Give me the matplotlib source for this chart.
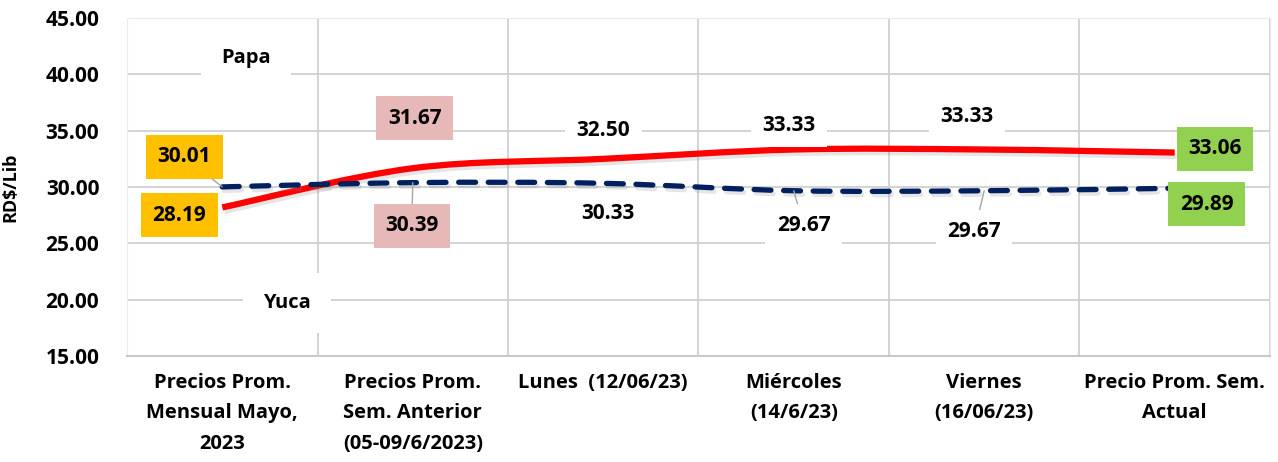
import numpy as np
import matplotlib
matplotlib.use("Agg")
import matplotlib.pyplot as plt
import matplotlib.patheffects as pe
from matplotlib.path import Path
from matplotlib.patches import PathPatch

plt.rcParams['font.family'] = ['Open Sans', 'DejaVu Sans']
plt.rcParams['font.weight'] = 'bold'

categories = ["Precios Prom.\nMensual Mayo,\n2023",
              "Precios Prom.\nSem. Anterior\n(05-09/6/2023)",
              "Lunes  (12/06/23)",
              "Miércoles\n(14/6/23)",
              "Viernes\n(16/06/23)",
              "Precio Prom. Sem.\nActual"]
papa = [28.19, 31.67, 32.50, 33.33, 33.33, 33.06]
yuca = [30.01, 30.39, 30.33, 29.67, 29.67, 29.89]

# label offsets in pixels from each point, box colours, leader lines
papa_off = [(-43, -8), (2, 50), (0, 28), (-5, 24), (-17, 33), (40, 4)]
yuca_off = [(-38, 30), (-1, -43), (5, -30), (10, -35), (-10, -41), (32, -16)]
box_cols = ["#FFC000", "#E6B8B7", "white", "white", "white", "#92D050"]
papa_lead = [False, False, False, False, False, False]
yuca_lead = [True, True, False, True, True, False]


def smooth_path(xs, ys):
    # excel style smoothed line as cubic bezier segments
    pts = np.column_stack([xs, ys]).astype(float)
    n = len(pts)
    verts = [pts[0]]
    codes = [Path.MOVETO]
    for i in range(n - 1):
        p0 = pts[max(i - 1, 0)]
        p1 = pts[i]
        p2 = pts[i + 1]
        p3 = pts[min(i + 2, n - 1)]
        c1 = p1 + (p2 - p0) / 6.0
        c2 = p2 - (p3 - p1) / 6.0
        verts += [c1, c2, p2]
        codes += [Path.CURVE4] * 3
    return Path(verts, codes)


fig = plt.figure(figsize=(12.78, 4.62), dpi=100)
ax = fig.add_axes([0.0994, 0.2294, 0.8943, 0.7316])

x = np.arange(len(categories))
ax.set_xlim(-0.5, len(categories) - 0.5)
ax.set_ylim(15, 45)
ax.set_yticks(np.arange(15, 46, 5))
ax.set_yticklabels([f"{v:.2f}" for v in np.arange(15, 46, 5)], fontsize=15)
ax.set_xticks(x)
ax.set_xticklabels(categories, fontsize=14.5, linespacing=1.72)
ax.set_xticks(np.arange(-0.5, len(categories), 1), minor=True)
ax.tick_params(axis='both', which='both', length=0)
ax.tick_params(axis='x', pad=12)
ax.tick_params(axis='y', pad=20)
ax.grid(axis='y', which='major', color='#D0D0D0', lw=1.3)
ax.grid(axis='x', which='minor', color='#D0D0D0', lw=1.3)
ax.set_axisbelow(True)
for s in ['left', 'top', 'right']:
    ax.spines[s].set_color('#EBEBEB')
ax.spines['bottom'].set_color('#C8C8C8')
ax.spines['bottom'].set_linewidth(1.5)
ax.set_ylabel("RD$/Lib", fontsize=13, fontweight='bold')
ax.yaxis.set_label_coords(-0.094, 0.5)

shadow = [pe.SimpleLineShadow(offset=(1.5, -2.5), shadow_color='gray', alpha=0.2), pe.Normal()]

red = PathPatch(smooth_path(x, papa), fill=False, edgecolor='#FF0000', lw=4.5,
                capstyle='butt', zorder=3, path_effects=shadow)
ax.add_patch(red)
navy = PathPatch(smooth_path(x, yuca), fill=False, edgecolor='#002060', lw=3.8,
                 linestyle=(0, (3.2, 2.4)), capstyle='round', zorder=4, path_effects=shadow)
ax.add_patch(navy)


def add_labels(vals, offs, leads):
    for i, v in enumerate(vals):
        arrow = None
        if leads[i]:
            arrow = dict(arrowstyle='-', color='#A6A6A6', lw=1, shrinkA=0, shrinkB=0)
        ax.annotate(f"{v:.2f}", (x[i], v), xytext=offs[i], textcoords='offset pixels',
                    ha='center', va='center', fontsize=15, zorder=6,
                    bbox=dict(boxstyle='square,pad=0.55', fc=box_cols[i], ec='none'),
                    arrowprops=arrow)


add_labels(papa, papa_off, papa_lead)
add_labels(yuca, yuca_off, yuca_lead)

# series names
ax.annotate("Papa", (x[0], papa[0]), xytext=(24, 149), textcoords='offset pixels',
            ha='center', va='center', fontsize=14.5, zorder=6,
            bbox=dict(boxstyle='square,pad=1.0', fc='white', ec='none'))
ax.annotate("Yuca", (x[0], yuca[0]), xytext=(65, -116), textcoords='offset pixels',
            ha='center', va='center', fontsize=14.5, zorder=6,
            bbox=dict(boxstyle='square,pad=1.0', fc='white', ec='none'))

fig.savefig("out.png", dpi=100)
